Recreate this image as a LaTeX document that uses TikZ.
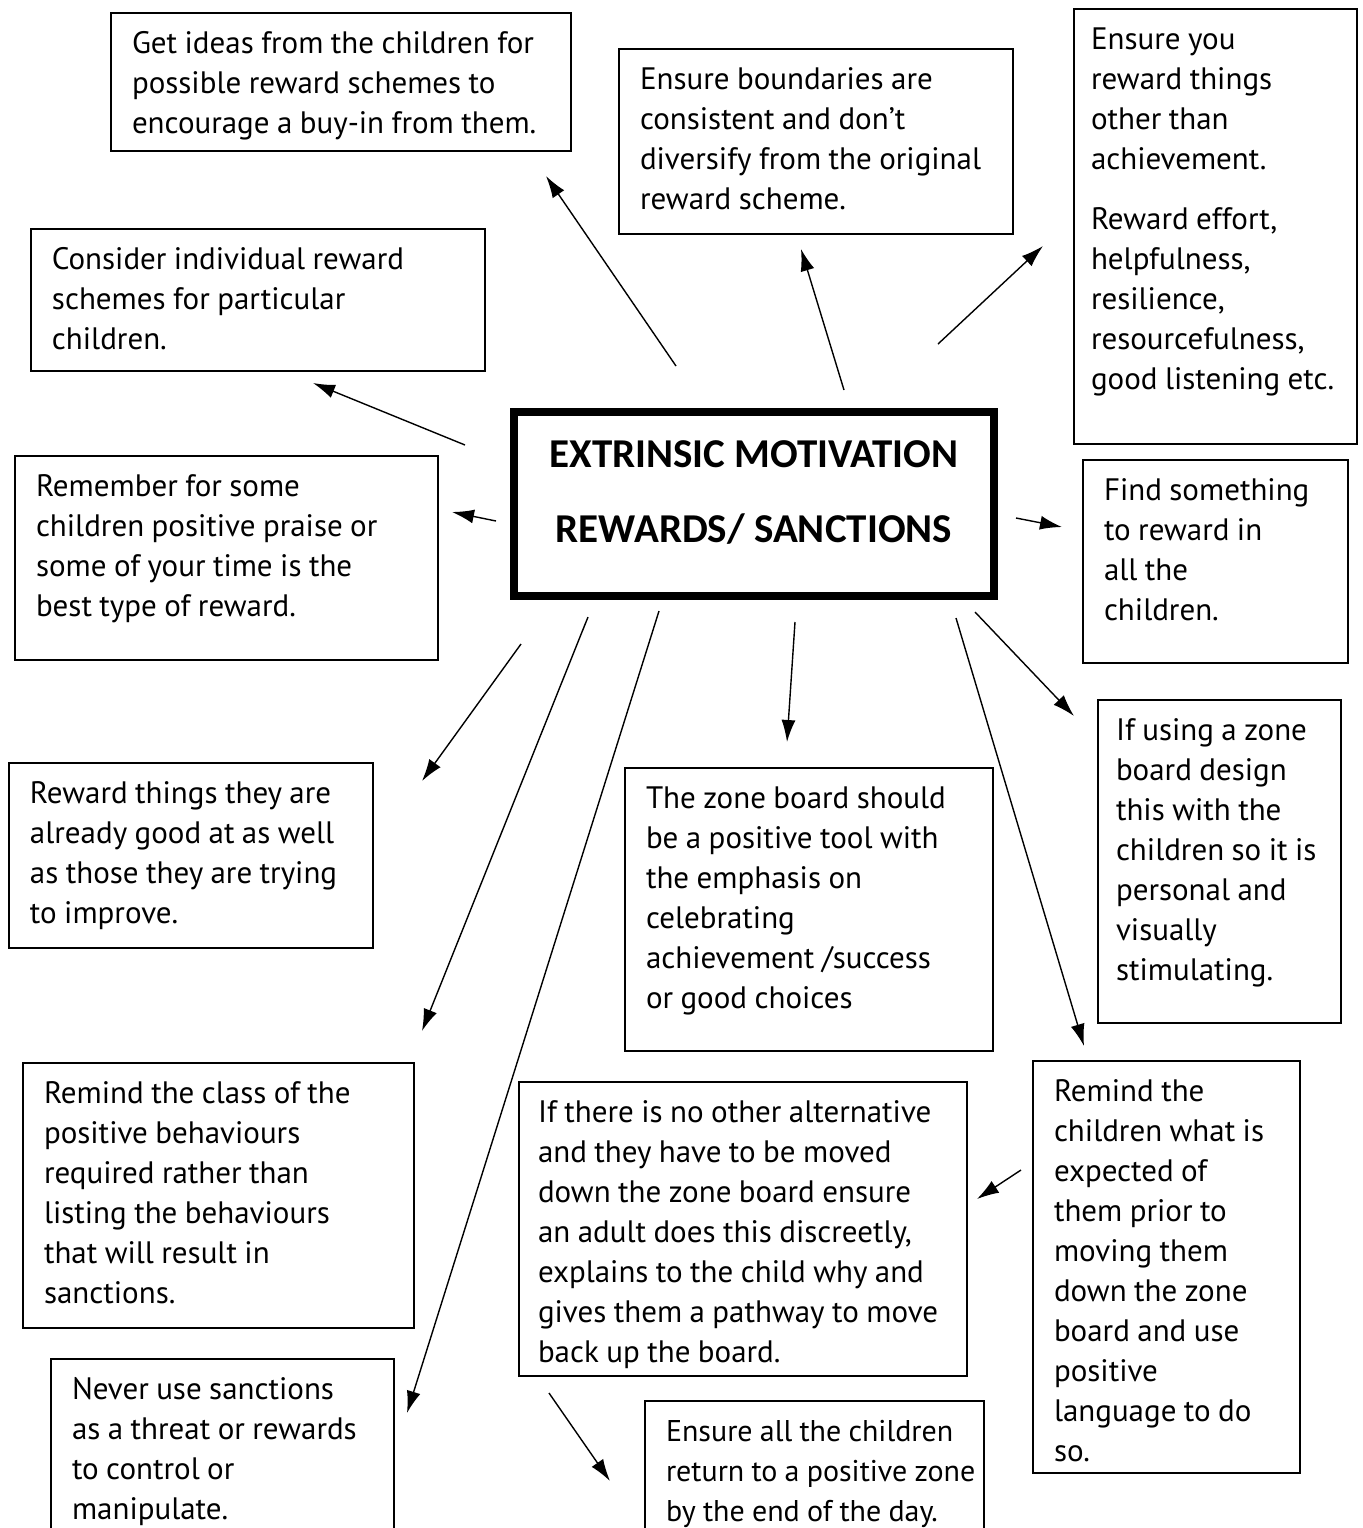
\documentclass[tikz,border=0pt]{standalone}
\usepackage{fontspec}
\setmainfont{PT Sans}[WordSpace=0.9]
\newfontfamily\titlefont{Carlito}
\usetikzlibrary{arrows.meta, positioning}

\begin{document}
\begin{tikzpicture}[x=0.5pt, y=-0.5pt, font=\fontsize{15.5}{20}\selectfont,
    note/.style={draw, line width=1pt, anchor=north west,
        inner xsep=10.5pt, inner ysep=5pt, text height=15pt,
        align=flush left},
    arr/.style={-{Latex[length=11pt,width=7pt]}, line width=0.7pt}]

\useasboundingbox (0,0) rectangle (1362,1528);
\clip (0,0) rectangle (1362,1528);

% Centre block
\node[draw, line width=4pt,
    minimum width=240pt,
    minimum height=92pt,
    text depth=12.5pt,
    font=\titlefont\bfseries\fontsize{20.5}{37.5}\selectfont,
    align=center] (ctr) at (754,504) {EXTRINSIC MOTIVATION\\REWARDS/ SANCTIONS};

% Top row
\node[note,
    minimum width=230pt,
    text depth=44pt,
    text width=209pt] (ideas) at (110,12) {Get ideas from the children for\\
    possible reward schemes to\\ encourage a buy-in from them.};

\node[note,
    minimum width=197pt,
    text depth=67.5pt,
    text width=176pt] (bound) at (618,48) {Ensure boundaries are\\
    consistent and don’t\\ diversify from the original\\ reward scheme.};

\node[note,
    minimum width=141.5pt,
    text depth=192.5pt,
    inner xsep=8.5pt,
    text width=124.5pt] (effort) at (1073,8) {Ensure you\\ reward things\\
    other than\\ achievement.\\[10pt] Reward effort,\\ helpfulness,\\
    resilience,\\ resourcefulness,\\ good listening etc.};

% Left column
\node[note,
    minimum width=227pt,
    text depth=46pt,
    text width=206pt] (indiv) at (30,228) {Consider individual reward\\
    schemes for particular\\ children.};

\node[note,
    minimum width=211.5pt,
    text depth=77pt,
    text width=190.5pt] (praise) at (14,455) {Remember for some\\
    children positive praise or\\ some of your time is the\\ best type of reward.};

\node[note,
    minimum width=182pt,
    text depth=67.5pt,
    text width=161pt] (good) at (8,762) {Reward things they are\\
    already good at as well\\ as those they are trying\\ to improve.};

\node[note,
    minimum width=195.5pt,
    text depth=107.5pt,
    text width=174.5pt] (class) at (22,1062) {Remind the class of the\\
    positive behaviours\\ required rather than\\ listing the behaviours\\
    that will result in\\ sanctions.};

\node[note,
    minimum width=171.5pt,
    text depth=68.5pt,
    text width=150.5pt] (never) at (50,1358) {Never use sanctions\\
    as a threat or rewards\\ to control or\\ manipulate.};

% Right column
\node[note,
    minimum width=132.5pt,
    text depth=76.5pt,
    text width=111.5pt] (find) at (1082,459) {Find something\\ to reward in\\
    all the\\ children.};

\node[note,
    minimum width=121.5pt,
    text depth=136.5pt,
    inner xsep=9pt,
    text width=103.5pt] (zone) at (1097,699) {If using a zone\\ board design\\
    this with the\\ children so it is\\ personal and\\ visually\\ stimulating.};

\node[note,
    minimum width=133.5pt,
    text depth=181pt,
    text width=112.5pt] (expect) at (1032,1060) {Remind the\\ children what is\\
    expected of\\ them prior to\\ moving them\\ down the zone\\ board and use\\
    positive\\ language to do\\ so.};

% Middle
\node[note,
    minimum width=184pt,
    text depth=116.5pt,
    text width=163pt] (tool) at (624,767) {The zone board should\\
    be a positive tool with\\ the emphasis on\\ celebrating\\
    achievement /success\\ or good choices};

\node[note,
    minimum width=224pt,
    text depth=122pt,
    inner xsep=9.5pt,
    text width=205pt] (moved) at (518,1081) {If there is no other alternative\\
    and they have to be moved\\ down the zone board ensure\\
    an adult does this discreetly,\\ explains to the child why and\\
    gives them a pathway to move\\ back up the board.};

\node[note,
    minimum width=169.5pt,
    text depth=45pt,
    font=\fontsize{15}{20}\selectfont,
    text width=148.5pt] (return) at (644,1400) {Ensure all the children\\
    \mbox{return to a positive zone}\\ by the end of the day.};

% Arrow ends
\coordinate (s1) at (676,366);   \coordinate (e1) at (546,176);
\coordinate (s2) at (844,390);   \coordinate (e2) at (801,249);
\coordinate (s3) at (938,344);   \coordinate (e3) at (1043,246);
\coordinate (s4) at (465,445);   \coordinate (e4) at (313,383);
\coordinate (s5) at (496,521);   \coordinate (e5) at (452,512);
\coordinate (s6) at (1016,518);  \coordinate (e6) at (1062,527);
\coordinate (s7) at (975,612);   \coordinate (e7) at (1074,716);
\coordinate (s8) at (521,644);   \coordinate (e8) at (422,781);
\coordinate (s9) at (795,622);   \coordinate (e9) at (787,742);
\coordinate (s10) at (588,617);  \coordinate (e10) at (422,1031);
\coordinate (s11) at (659,611);  \coordinate (e11) at (407,1413);
\coordinate (s12) at (956,618);  \coordinate (e12) at (1084,1046);
\coordinate (s13) at (1021,1170); \coordinate (e13) at (977,1199);
\coordinate (s14) at (549,1393); \coordinate (e14) at (610,1481);

% Arrows
\draw[arr] (s1) -- (e1);
\draw[arr] (s2) -- (e2);
\draw[arr] (s3) -- (e3);
\draw[arr] (s4) -- (e4);
\draw[arr] (s5) -- (e5);
\draw[arr] (s6) -- (e6);
\draw[arr] (s7) -- (e7);
\draw[arr] (s8) -- (e8);
\draw[arr] (s9) -- (e9);
\draw[arr] (s10) -- (e10);
\draw[arr] (s11) -- (e11);
\draw[arr] (s12) -- (e12);
\draw[arr] (s13) -- (e13);
\draw[arr] (s14) -- (e14);

\end{tikzpicture}
\end{document}
